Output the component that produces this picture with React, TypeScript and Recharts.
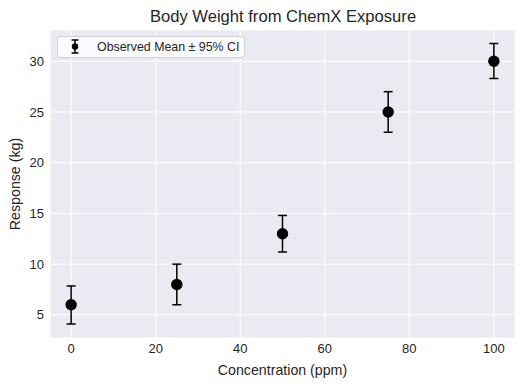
import React from "react";
import {
  ScatterChart,
  Scatter,
  XAxis,
  YAxis,
  CartesianGrid,
  ErrorBar,
  Legend,
  Label,
} from "recharts";

const concentrations = [0, 25, 50, 75, 100];
const meanResponse = [6, 8, 13, 25, 30];
const ciLower = [1.9, 2.0, 1.8, 2.0, 1.7];
const ciUpper = [1.85, 2.0, 1.8, 2.0, 1.75];
const xTicks = [0, 20, 40, 60, 80, 100];
const yTicks = [5, 10, 15, 20, 25, 30];

const data = concentrations.map((c, i) => ({
  conc: c,
  resp: meanResponse[i],
  ci: [ciLower[i], ciUpper[i]],
}));

const FONT = "'Liberation Sans', Arial, sans-serif";
const TEXT = "#262626";

const Dot = (props: any) => {
  const { cx, cy } = props;
  return <circle cx={cx} cy={cy} r={5.7} fill="#000" />;
};

const LegendBox = () => (
  <div
    style={{
      display: "flex",
      alignItems: "center",
      width: 188,
      height: 22,
      boxSizing: "border-box",
      background: "rgba(255,255,255,0.8)",
      border: "1px solid #d2d2d6",
      borderRadius: 3,
      fontFamily: FONT,
      fontSize: 12.4,
      color: TEXT,
    }}
  >
    <svg width={36} height={20} style={{ flex: "none" }}>
      <line x1={17} x2={17} y1={3} y2={16} stroke="#000" strokeWidth={1.5} />
      <line x1={13.5} x2={20.5} y1={3} y2={3} stroke="#000" strokeWidth={1.5} />
      <line x1={13.5} x2={20.5} y1={16} y2={16} stroke="#000" strokeWidth={1.5} />
      <circle cx={17} cy={9.5} r={3.2} fill="#000" />
    </svg>
    <span style={{ marginLeft: 3, whiteSpace: "nowrap" }}>Observed Mean ± 95% CI</span>
  </div>
);

export default function App() {
  return (
    <div style={{ position: "absolute", left: 0, top: 0, width: 525, height: 386, background: "#fff" }}>
      <ScatterChart
        width={525}
        height={386}
        margin={{ top: 30, right: 10, bottom: 0, left: 0 }}
        style={{ fontFamily: FONT }}
      >
        <CartesianGrid stroke="#ffffff" strokeWidth={1} fill="#EAEAF2" />
        <XAxis
          type="number"
          dataKey="conc"
          domain={[-5, 105]}
          ticks={xTicks}
          height={48}
          axisLine={false}
          tickLine={false}
          tickSize={6}
          tickMargin={0}
          tick={{ fill: TEXT, fontSize: 13 }}
        >
          <Label
            value="Concentration (ppm)"
            position="insideBottom"
            offset={11}
            style={{ fill: TEXT, fontSize: 14.2 }}
          />
        </XAxis>
        <YAxis
          type="number"
          dataKey="resp"
          domain={[2.72, 33.08]}
          ticks={yTicks}
          width={50}
          axisLine={false}
          tickLine={false}
          tickSize={6}
          tickMargin={0}
          allowDataOverflow
          tick={{ fill: TEXT, fontSize: 13 }}
        >
          <Label
            value="Response (kg)"
            angle={-90}
            position="insideLeft"
            offset={15}
            style={{ fill: TEXT, fontSize: 14.2, textAnchor: "middle" }}
          />
        </YAxis>
        <Legend
          layout="horizontal"
          verticalAlign="middle"
          align="center"
          wrapperStyle={{ left: 57, top: 36, width: "auto" }}
          content={() => <LegendBox />}
        />
        <Scatter
          name="Observed Mean ± 95% CI"
          data={data}
          fill="#000"
          shape={Dot}
          isAnimationActive={false}
        >
          <ErrorBar
            dataKey="ci"
            direction="y"
            width={4.5}
            stroke="#000"
            strokeWidth={1.5}
            isAnimationActive={false}
          />
        </Scatter>
        <text
          x={283}
          y={21.5}
          textAnchor="middle"
          style={{ fontFamily: FONT, fontSize: 16.6, fill: TEXT }}
        >
          Body Weight from ChemX Exposure
        </text>
      </ScatterChart>
    </div>
  );
}
